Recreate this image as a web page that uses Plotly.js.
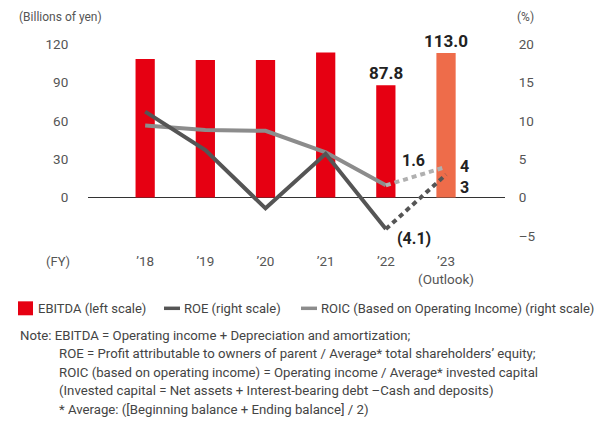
<!DOCTYPE html>
<html><head><meta charset="utf-8">
<script src="https://cdn.plot.ly/plotly-3.0.1.min.js"></script>
<style>html,body{margin:0;padding:0;background:#fff}#chart{width:610px;height:421px}</style>
</head><body><div id="chart"></div>
<script>
const years = ['’18','’19','’20','’21','’22','’23<br>(Outlook)'];
const ebitda = [108.3, 107.5, 107.5, 113.3, 87.8, 113.0];
const roe = [11.2, 6.2, -1.4, 5.7, -4.1, 3];
const roic = [9.4, 8.8, 8.7, 5.9, 1.6, 4];
const leftTicks = [0, 30, 60, 90, 120];
const rightTicks = [-5, 0, 5, 10, 15, 20];
const seriesNames = ['EBITDA (left scale)', 'ROE (right scale)', 'ROIC (Based on Operating Income) (right scale)'];
const noteLines = [
  'Note: EBITDA = Operating income + Depreciation and amortization;',
  'ROE = Profit attributable to owners of parent / Average* total shareholders’ equity;',
  'ROIC (based on operating income) = Operating income / Average* invested capital',
  '(Invested capital = Net assets + Interest-bearing debt –Cash and deposits)',
  '* Average: ([Beginning balance + Ending balance] / 2)'
];

const FONT = 'Roboto, "Noto Sans", sans-serif';
const RED = '#e60012', ORANGE = '#ee6c4a', ROEC = '#555555', ROICC = '#8c8c8c', ROICD = '#b0b0b0';

// plot area geometry (pixels) for placing outside-plot texts
const PL = 88, PW = 417, PT = 44, PH = 192.5;
const px = x => (x - PL) / PW;           // pixel x -> paper x
const py = y => 1 - (y - PT) / PH;       // pixel y -> paper y

const data = [
  {type:'bar', x: years, y: ebitda, name: seriesNames[0], width:0.32,
   marker:{color: years.map((_,i)=> i===5 ? ORANGE : RED)}, yaxis:'y', hoverinfo:'skip'},
  {type:'scatter', mode:'lines', x: years.slice(0,5), y: roic.slice(0,5), name: seriesNames[2],
   line:{color:ROICC, width:4}, yaxis:'y2', hoverinfo:'skip'},
  {type:'scatter', mode:'lines', x: years.slice(4), y: roic.slice(4), showlegend:false,
   line:{color:ROICD, width:4, dash:'5px,4px'}, yaxis:'y2', hoverinfo:'skip'},
  {type:'scatter', mode:'lines', x: years.slice(0,5), y: roe.slice(0,5), name: seriesNames[1],
   line:{color:ROEC, width:4}, yaxis:'y2', hoverinfo:'skip'},
  {type:'scatter', mode:'lines', x: years.slice(4), y: roe.slice(4), showlegend:false,
   line:{color:ROEC, width:4, dash:'5px,4px'}, yaxis:'y2', hoverinfo:'skip'}
];

const lblFont = {family: FONT, size: 16, color:'#222'};
const fmt = v => v < 0 ? '(' + Math.abs(v).toFixed(1) + ')' : String(v);
const annotations = [
  {x: years[5], y: ebitda[5], xref:'x', yref:'y', text: '<b>'+ebitda[5].toFixed(1)+'</b>', showarrow:false, yanchor:'bottom', yshift:0, font:Object.assign({},lblFont,{size:17})},
  {x: years[4], y: ebitda[4], xref:'x', yref:'y', text: '<b>'+ebitda[4].toFixed(1)+'</b>', showarrow:false, yanchor:'bottom', yshift:0, font:Object.assign({},lblFont,{size:17})},
  {x: years[4], y: roic[4], xref:'x', yref:'y2', text: '<b>'+roic[4].toFixed(1)+'</b>', showarrow:false, xshift:28, yshift:25, font:lblFont},
  {x: years[5], y: roic[5], xref:'x', yref:'y2', text: '<b>'+String(roic[5])+'</b>', showarrow:false, xshift:18, yshift:0, font:lblFont},
  {x: years[5], y: roe[5], xref:'x', yref:'y2', text: '<b>'+String(roe[5])+'</b>', showarrow:false, xshift:18, yshift:-13, font:lblFont},
  {x: years[4], y: roe[4], xref:'x', yref:'y2', text: '<b>'+fmt(roe[4])+'</b>', showarrow:false, xshift:28, yshift:-9, font:lblFont},
  {x: px(17), y: py(17), xref:'paper', yref:'paper', text:'(Billions of yen)', showarrow:false, xanchor:'left', yanchor:'middle', font:{family:FONT,size:12,color:'#555'}},
  {x: px(515), y: py(17), xref:'paper', yref:'paper', text:'(%)', showarrow:false, xanchor:'left', yanchor:'middle', font:{family:FONT,size:12,color:'#555'}},
  {x: px(44), y: py(262), xref:'paper', yref:'paper', text:'(FY)', showarrow:false, xanchor:'left', yanchor:'middle', font:{family:FONT,size:13,color:'#555'}}
];
// legend (drawn manually so it fits on one row like the reference)
const legY = 309;
const legTextX = [36, 182, 319];
seriesNames.forEach((t,i)=>{
  annotations.push({x: px(legTextX[i]), y: py(legY), xref:'paper', yref:'paper', text:t, showarrow:false,
    xanchor:'left', yanchor:'middle', font:{family:FONT,size:13,color:'#444'}});
});
const shapes = [
  {type:'rect', xref:'paper', yref:'paper', x0:px(18), x1:px(33), y0:py(302), y1:py(316), fillcolor:RED, line:{width:0}},
  {type:'line', xref:'paper', yref:'paper', x0:px(164), x1:px(180), y0:py(legY), y1:py(legY), line:{color:ROEC, width:3.5}},
  {type:'line', xref:'paper', yref:'paper', x0:px(301), x1:px(317), y0:py(legY), y1:py(legY), line:{color:ROICC, width:3.5}}
];
noteLines.forEach((t,i)=>{
  annotations.push({x: px(i===0 ? 18 : 57), y: py(336 + i*18.5), xref:'paper', yref:'paper', text:t, showarrow:false,
    xanchor:'left', yanchor:'middle', font:{family:FONT,size:13.2,color:'#444'}});
});

const layout = {
  width:610, height:421,
  margin:{l:PL, r:610-PL-PW, t:PT, b:421-PT-PH},
  paper_bgcolor:'#fff', plot_bgcolor:'#fff',
  font:{family:FONT, size:13, color:'#555'},
  showlegend:false,
  hovermode:false,
  xaxis:{type:'category', range:[-0.95,5.98], showgrid:false, showline:false, zeroline:false,
         ticks:'outside', ticklen:13, tickcolor:'rgba(0,0,0,0)', tickfont:{family:FONT,size:13.5,color:'#555'}},
  yaxis:{range:[-30,120], tickvals:leftTicks, showgrid:false, showline:false, zeroline:true, zerolinecolor:'#333', zerolinewidth:1,
         ticks:'outside', ticklen:16, tickcolor:'rgba(0,0,0,0)', tickfont:{family:FONT,size:13.5,color:'#555'}},
  yaxis2:{range:[-5,20], tickmode:'array', tickvals:rightTicks, ticktext: rightTicks.map(v=> v<0 ? '–'+Math.abs(v) : String(v)),
         overlaying:'y', side:'right', showgrid:false, showline:false, zeroline:false,
         ticks:'outside', ticklen:10, tickcolor:'rgba(0,0,0,0)', tickfont:{family:FONT,size:13.5,color:'#555'}},
  annotations: annotations,
  shapes: shapes
};
Plotly.newPlot('chart', data, layout, {staticPlot:true, displayModeBar:false});
</script></body></html>
